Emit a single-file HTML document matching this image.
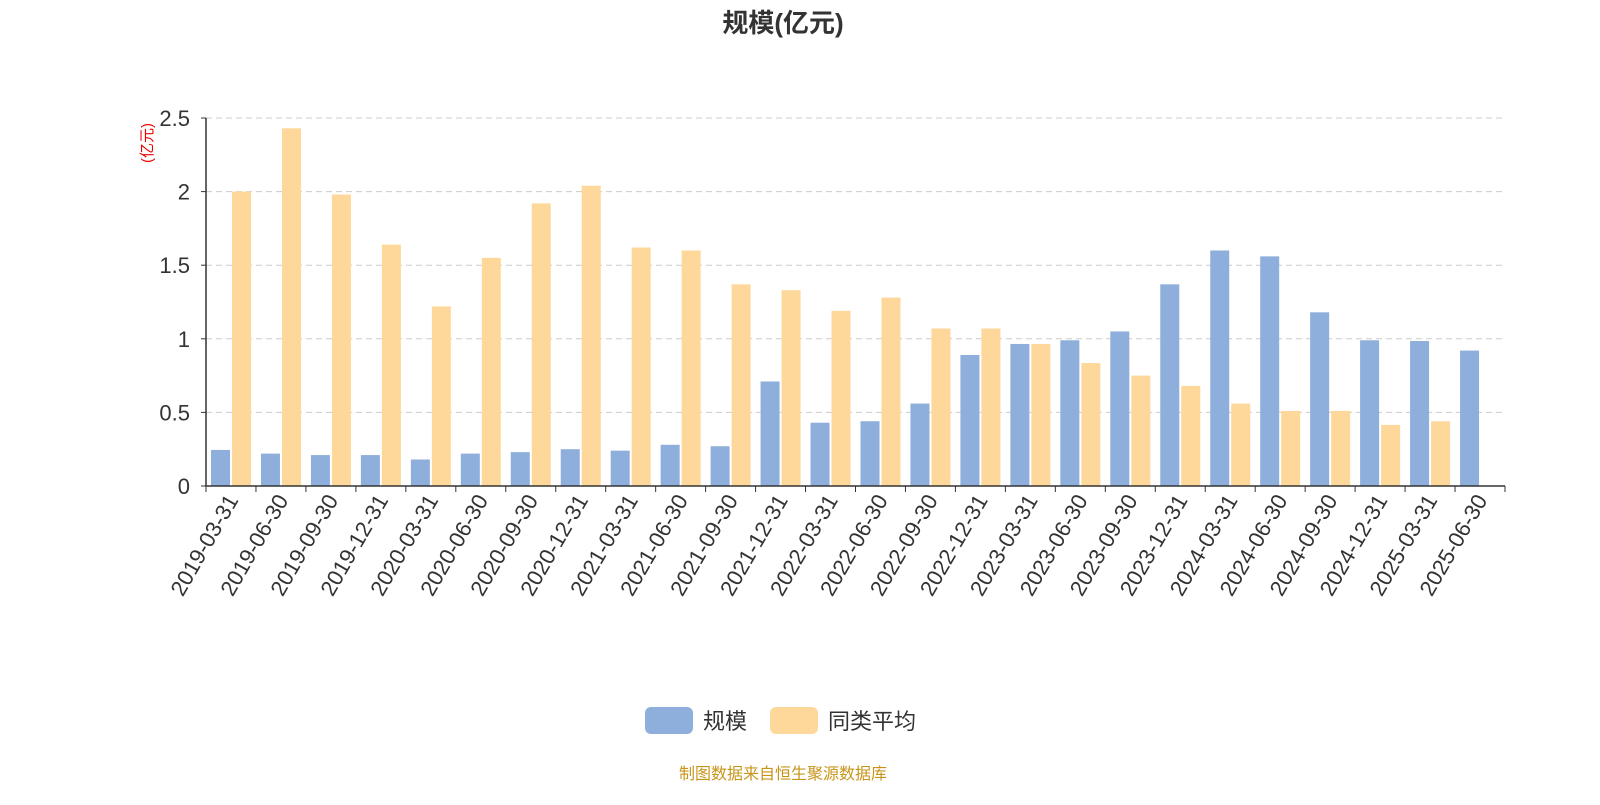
<!DOCTYPE html>
<html><head><meta charset="utf-8"><style>
body{margin:0;background:#fff;font-family:"Liberation Sans","Noto Sans CJK SC",sans-serif;}
</style></head><body>
<svg width="1600" height="800" xmlns="http://www.w3.org/2000/svg" style="font-family:'Liberation Sans','Noto Sans CJK SC',sans-serif">
<text x="783" y="32" text-anchor="middle" font-size="26" font-weight="bold" fill="#333">规模(亿元)</text>
<text transform="translate(152,143) rotate(-90)" text-anchor="middle" font-size="15" fill="#e00">(亿元)</text>
<g id="grid"></g><g id="bars"></g><g id="axes"></g>
<g>
<rect x="645" y="707" width="48" height="27" rx="6" fill="#8eaedb"/>
<text x="703" y="729" font-size="22" fill="#333">规模</text>
<rect x="770" y="707" width="48" height="27" rx="6" fill="#fed89a"/>
<text x="828" y="729" font-size="22" fill="#333">同类平均</text>
</g>
<text x="783" y="779" text-anchor="middle" font-size="16" fill="#c8951a">制图数据来自恒生聚源数据库</text>
</svg>
<script>
const categories=["2019-03-31","2019-06-30","2019-09-30","2019-12-31","2020-03-31","2020-06-30","2020-09-30","2020-12-31","2021-03-31","2021-06-30","2021-09-30","2021-12-31","2022-03-31","2022-06-30","2022-09-30","2022-12-31","2023-03-31","2023-06-30","2023-09-30","2023-12-31","2024-03-31","2024-06-30","2024-09-30","2024-12-31","2025-03-31","2025-06-30"];
const scaleValues=[0.245,0.22,0.21,0.21,0.18,0.22,0.23,0.25,0.24,0.28,0.27,0.71,0.43,0.44,0.56,0.89,0.965,0.99,1.05,1.37,1.60,1.56,1.18,0.99,0.985,0.92];
const avgValues=[2.0,2.43,1.98,1.64,1.22,1.55,1.92,2.04,1.62,1.60,1.37,1.33,1.19,1.28,1.07,1.07,0.965,0.835,0.75,0.68,0.56,0.51,0.51,0.415,0.44,null];
const yTicks=[0,0.5,1,1.5,2,2.5];
const NS="http://www.w3.org/2000/svg";
const x0=206,x1=1505,y0=486,yTop=118,yMax=2.5;
const bw=(x1-x0)/categories.length;
const y=v=>y0-(v/yMax)*(y0-yTop);
function mk(t,a,p){const e=document.createElementNS(NS,t);for(const k in a)e.setAttribute(k,a[k]);p.appendChild(e);return e;}
const grid=document.getElementById('grid'),bars=document.getElementById('bars'),axes=document.getElementById('axes');
yTicks.forEach(t=>{
 if(t>0){const l=mk('line',{x1:x0,x2:x1,y1:y(t),y2:y(t),stroke:'#ccc','stroke-dasharray':'6,4'},grid);
 
 }
 const tx=mk('text',{x:190,y:y(t)+8,'text-anchor':'end','font-size':22,fill:'#333'},axes);
 tx.textContent=String(t);
 
 
 const tk=mk('line',{x1:x0-5,x2:x0,y1:y(t),y2:y(t),stroke:'#333'},axes);
 
 
});
const ya=mk('line',{x1:x0,x2:x0,y1:yTop,y2:y0,stroke:'#333','stroke-width':1.5},axes);


const xa=mk('line',{x1:x0,x2:x1,y1:y0,y2:y0,stroke:'#333','stroke-width':1.5},axes);


categories.forEach((c,i)=>{
 const cx=x0+i*bw;
 const tk=mk('line',{x1:cx,x2:cx,y1:y0,y2:y0+6,stroke:'#333'},axes);
 
 
 const mid=cx+bw/2;
 const lb=mk('text',{x:0,y:0,transform:`translate(${mid+8},${y0+14}) rotate(-60)`,'text-anchor':'end','font-size':22,fill:'#333'},axes);
 lb.textContent=c;
 
 
 if(scaleValues[i]!=null){const r=mk('rect',{x:cx+5,y:y(scaleValues[i]),width:19,height:y0-y(scaleValues[i]),fill:'#8eaedb'},bars);
 
 }
 if(avgValues[i]!=null){const r=mk('rect',{x:cx+26,y:y(avgValues[i]),width:19,height:y0-y(avgValues[i]),fill:'#fed89a'},bars);
 
 }
});
const lt=mk('line',{x1:x1,x2:x1,y1:y0,y2:y0+6,stroke:'#333'},axes);


</script>
</body></html>
